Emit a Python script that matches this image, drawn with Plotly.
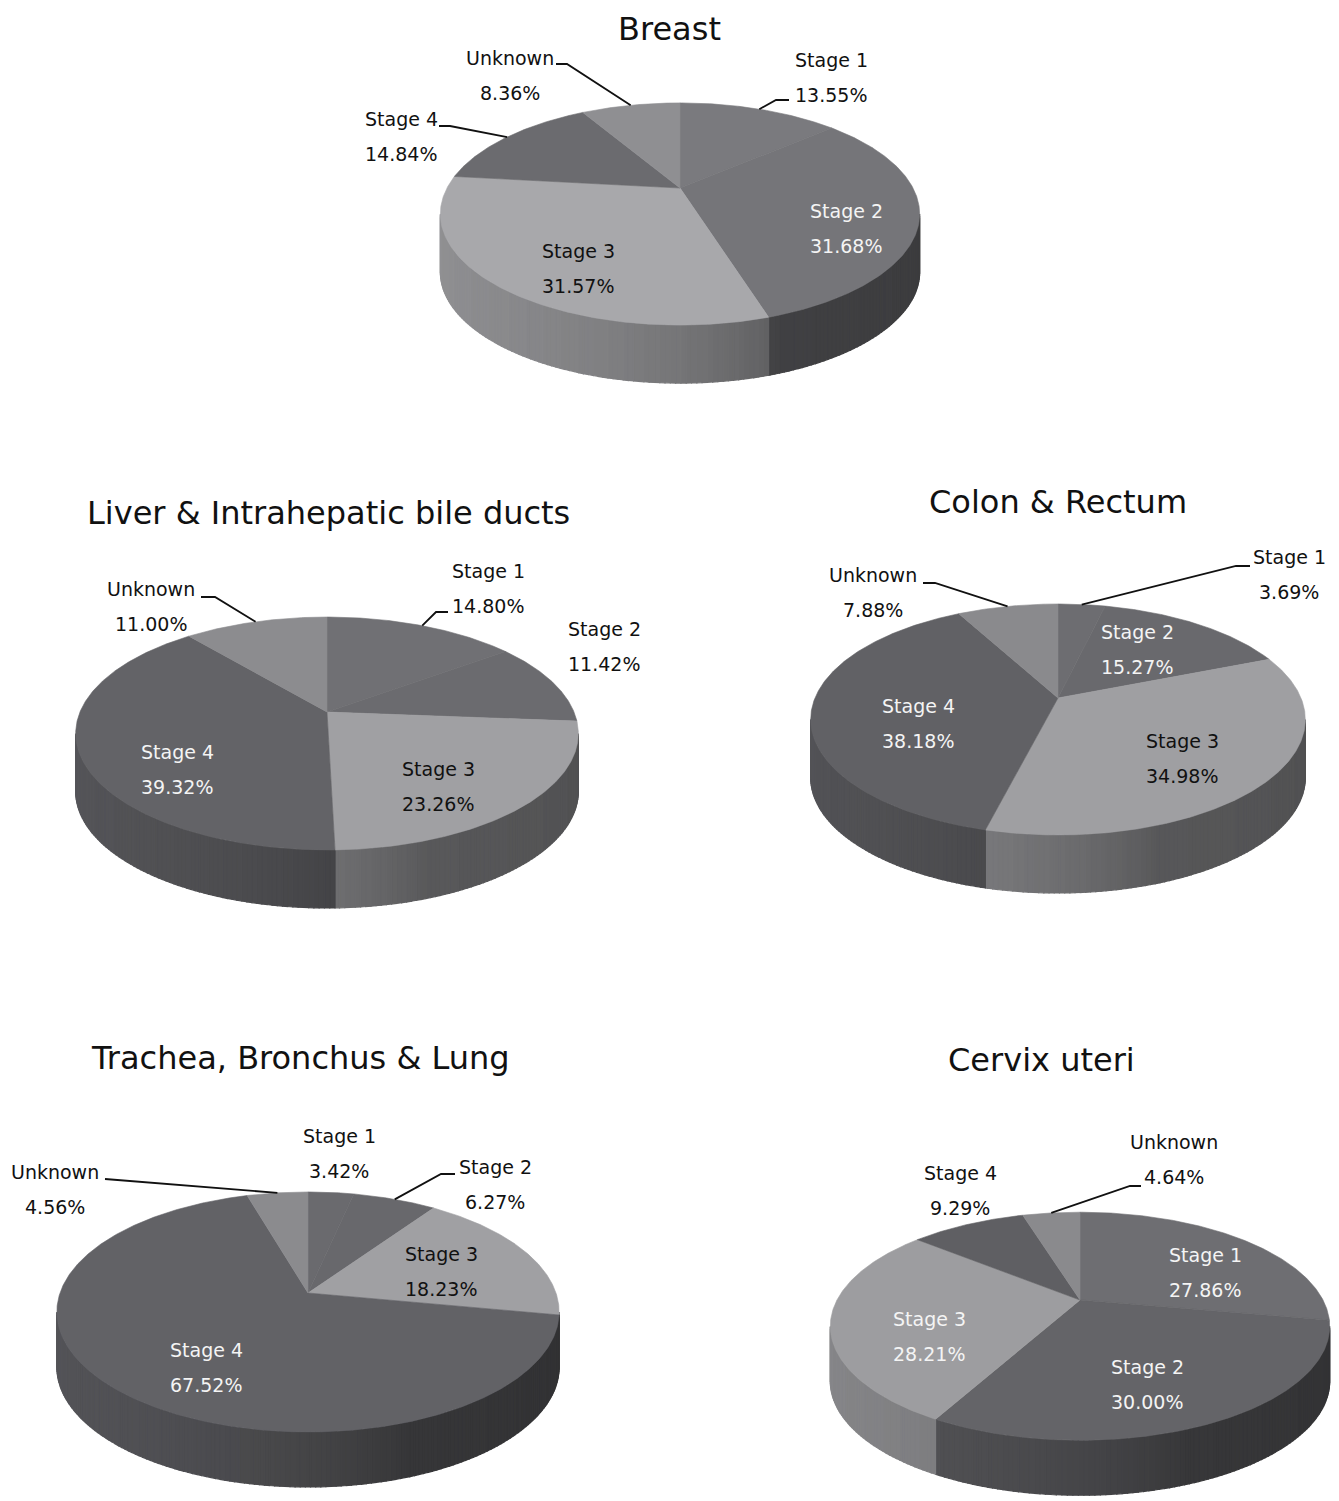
import numpy as np
import plotly.graph_objects as go

# ---------------- data ----------------
categories = ["Stage 1", "Stage 2", "Stage 3", "Stage 4", "Unknown"]
breast_pct = [13.55, 31.68, 31.57, 14.84, 8.36]
liver_pct = [14.80, 11.42, 23.26, 39.32, 11.00]
colon_pct = [3.69, 15.27, 34.98, 38.18, 7.88]
lung_pct = [3.42, 6.27, 18.23, 67.52, 4.56]
cervix_pct = [27.86, 30.00, 28.21, 9.29, 4.64]
chart_titles = ["Breast", "Liver & Intrahepatic bile ducts", "Colon & Rectum",
                "Trachea, Bronchus & Lung", "Cervix uteri"]

# ---------------- layout / style ----------------
W, H = 1339, 1501
PAGE_MARGIN = 8  # default body margin of the html page
DARK = "#111111"
LIGHT = "#f4f4f4"
FONT = "DejaVu Sans"
LABEL_SIZE = 19
TITLE_SIZE = 32

PIES = [
    dict(values=breast_pct, title=chart_titles[0], title_xy=(669, 29),
         cx=680, cy=188, rx=233, ry=105, k=0.234, depth=58,
         colors=["#7a7a7e", "#757579", "#a8a8ab", "#6b6b6f", "#8f8f92"],
         labels=[dict(xy=(831, 60), color=DARK, leader=[(776, 100), (789, 100)]),
                 dict(xy=(846, 211), color=LIGHT, leader=None),
                 dict(xy=(578, 251), color=DARK, leader=None),
                 dict(xy=(401, 119), color=DARK, leader=[(450, 126), (439, 126)]),
                 dict(xy=(510, 58), color=DARK, leader=[(567, 64), (556, 64)])]),
    dict(values=liver_pct, title=chart_titles[1], title_xy=(328, 513),
         cx=327, cy=712, rx=247, ry=112.5, k=0.1845, depth=58,
         colors=["#707074", "#6b6b6f", "#a0a0a3", "#636367", "#8c8c8f"],
         labels=[dict(xy=(488, 571), color=DARK, leader=[(436, 612), (448, 612)]),
                 dict(xy=(604, 629), color=DARK, leader=None),
                 dict(xy=(438, 769), color=DARK, leader=None),
                 dict(xy=(177, 752), color=LIGHT, leader=None),
                 dict(xy=(151, 589), color=DARK, leader=[(215, 597), (201, 597)])]),
    dict(values=colon_pct, title=chart_titles[2], title_xy=(1058, 502),
         cx=1058, cy=698, rx=243, ry=111.5, k=0.186, depth=58,
         colors=["#6d6d71", "#69696d", "#9f9fa2", "#616165", "#8a8a8d"],
         labels=[dict(xy=(1289, 557), color=DARK, leader=[(1236, 566), (1250, 566)]),
                 dict(xy=(1137, 632), color=LIGHT, leader=None),
                 dict(xy=(1182, 741), color=DARK, leader=None),
                 dict(xy=(918, 706), color=LIGHT, leader=None),
                 dict(xy=(873, 575), color=DARK, leader=[(935, 583), (923, 583)])]),
    dict(values=lung_pct, title=chart_titles[3], title_xy=(300, 1058),
         cx=308, cy=1293, rx=248, ry=117, k=0.158, depth=55,
         colors=["#6a6a6e", "#68686c", "#a0a0a3", "#626266", "#8b8b8e"],
         labels=[dict(xy=(339, 1136), color=DARK, leader=None),
                 dict(xy=(495, 1167), color=DARK, leader=[(441, 1174), (455, 1174)]),
                 dict(xy=(441, 1254), color=DARK, leader=None),
                 dict(xy=(206, 1350), color=LIGHT, leader=None),
                 dict(xy=(55, 1172), color=DARK, leader=[(112, 1179), (105, 1179)])]),
    dict(values=cervix_pct, title=chart_titles[4], title_xy=(1041, 1060),
         cx=1080, cy=1300, rx=243, ry=108, k=0.23, depth=55,
         colors=["#6e6e72", "#646468", "#9d9da0", "#5f5f63", "#8a8a8d"],
         labels=[dict(xy=(1205, 1255), color=LIGHT, leader=None),
                 dict(xy=(1147, 1367), color=LIGHT, leader=None),
                 dict(xy=(929, 1319), color=LIGHT, leader=None),
                 dict(xy=(960, 1173), color=DARK, leader=None),
                 dict(xy=(1174, 1142), color=DARK, leader=[(1130, 1186), (1141, 1186)])]),
]
LINE_GAP = 35  # distance between name line and percentage line


def project(p, theta_deg, r=1.0, dz=0.0):
    t = np.radians(theta_deg)
    u, v = r * np.sin(t), r * np.cos(t)
    d = 1.0 + p["k"] * v
    return p["cx"] + p["rx"] * u / d, p["cy"] - p["ry"] * v / d + dz


def shade(theta):
    if theta <= 160:
        return 0.5 + 0.05 * (theta - 100) / 60
    return 0.55 + 0.33 * (1 - np.exp(-(theta - 160) / 35))


def scaled(hexc, f):
    r, g, b = (int(hexc[i:i + 2], 16) for i in (1, 3, 5))
    return "rgb({},{},{})".format(int(round(r * f)), int(round(g * f)), int(round(b * f)))


fig = go.Figure()
annotations = []

for p in PIES:
    vals = np.array(p["values"], dtype=float)
    cum = np.concatenate([[0], np.cumsum(vals)]) / vals.sum() * 360.0
    t_right = np.degrees(np.arccos(-p["k"]))
    t_left = 360.0 - t_right

    # ---- side walls (front visible part), grouped by shade ----
    groups = {}
    for i in range(len(vals)):
        a, b = max(cum[i], t_right), min(cum[i + 1], t_left)
        if a >= b:
            continue
        edges = list(np.arange(a, b, 1.0)) + [b]
        for t0, t1 in zip(edges[:-1], edges[1:]):
            f = round(shade(0.5 * (t0 + t1)), 2)
            col = scaled(p["colors"][i], f)
            x0, y0 = project(p, t0)
            x1, y1 = project(p, t1)
            xs, ys = groups.setdefault(col, ([], []))
            xs += [x0, x1, x1, x0, x0, None]
            ys += [y0, y1, y1 + p["depth"], y0 + p["depth"], y0, None]
    for col, (xs, ys) in groups.items():
        fig.add_trace(go.Scatter(x=xs, y=ys, mode="lines", fill="toself",
                                 fillcolor=col, line=dict(color=col, width=1.2),
                                 hoverinfo="skip", showlegend=False))

    # ---- top face slices ----
    for i, cat in enumerate(categories):
        n = max(2, int((cum[i + 1] - cum[i]) / 0.5) + 1)
        th = np.linspace(cum[i], cum[i + 1], n)
        ax, ay = project(p, th)
        xs = [p["cx"]] + list(ax) + [p["cx"]]
        ys = [p["cy"]] + list(ay) + [p["cy"]]
        fig.add_trace(go.Scatter(x=xs, y=ys, mode="lines", fill="toself",
                                 fillcolor=p["colors"][i],
                                 line=dict(color=p["colors"][i], width=0.6),
                                 hoveron="fills", hoverinfo="text",
                                 text="{} {}: {:.2f}%".format(p["title"], cat, vals[i]),
                                 showlegend=False))

    # ---- labels and leader lines ----
    for i, cat in enumerate(categories):
        lab = p["labels"][i]
        lx, ly = lab["xy"]
        annotations.append(dict(x=lx, y=ly, xref="x", yref="y", text=cat,
                                showarrow=False,
                                font=dict(family=FONT, size=LABEL_SIZE, color=lab["color"])))
        annotations.append(dict(x=lx, y=ly + LINE_GAP, xref="x", yref="y",
                                text="{:.2f}%".format(vals[i]), showarrow=False,
                                font=dict(family=FONT, size=LABEL_SIZE, color=lab["color"])))
        if lab["leader"]:
            sx, sy = project(p, 0.5 * (cum[i] + cum[i + 1]))
            lxs = [sx] + [q[0] for q in lab["leader"]]
            lys = [sy] + [q[1] for q in lab["leader"]]
            fig.add_trace(go.Scatter(x=lxs, y=lys, mode="lines",
                                     line=dict(color=DARK, width=1.8),
                                     hoverinfo="skip", showlegend=False))

    tx, ty = p["title_xy"]
    annotations.append(dict(x=tx, y=ty, xref="x", yref="y", text=p["title"],
                            showarrow=False,
                            font=dict(family=FONT, size=TITLE_SIZE, color=DARK)))

fig.update_layout(
    width=W - PAGE_MARGIN, height=H - PAGE_MARGIN,
    margin=dict(l=0, r=0, t=0, b=0, pad=0),
    paper_bgcolor="white", plot_bgcolor="white", showlegend=False,
    xaxis=dict(range=[PAGE_MARGIN, W], visible=False, fixedrange=True),
    yaxis=dict(range=[H, PAGE_MARGIN], visible=False, fixedrange=True),
    annotations=annotations,
)

fig.write_html("out.html")
